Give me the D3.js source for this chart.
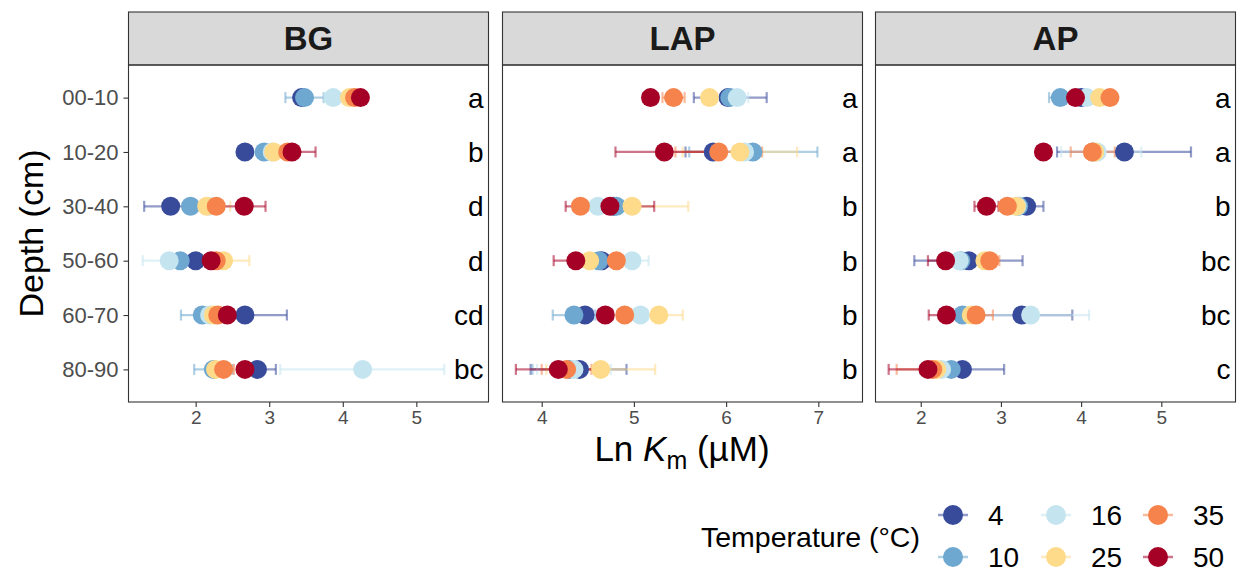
<!DOCTYPE html>
<html>
<head>
<meta charset="utf-8">
<script src="https://cdn.jsdelivr.net/npm/d3@7"></script>
<style>
  body { margin: 0; background: #fff; }
  svg { display: block; font-family: "Liberation Sans", Arial, sans-serif; }
</style>
</head>
<body>
<div id="chart"></div>
<script>
// categories
const depths = ["00-10", "10-20", "30-40", "50-60", "60-70", "80-90"];
const temps = ["4", "10", "16", "25", "35", "50"];
const tempColors = ["#384b9b", "#6ea7cf", "#c4e5ef", "#fedb8b", "#f6834b", "#a50026"];
const enzymes = ["BG", "LAP", "AP"];

// Ln Km means, one row per temperature, one value per depth
const bgMean = [
  [3.44, 2.67, 1.66, 2.00, 2.67, 2.84],
  [3.48, 2.93, 1.93, 1.79, 2.09, 2.24],
  [3.87, 3.04, 2.18, 1.64, 2.19, 4.27],
  [4.09, 3.06, 2.15, 2.38, 2.24, 2.27],
  [4.16, 3.25, 2.28, 2.28, 2.30, 2.38],
  [4.24, 3.31, 2.66, 2.21, 2.43, 2.67]
];
const bgLow = [
  [3.38, 2.60, 1.30, 1.92, 2.10, 2.60],
  [3.22, 2.86, 1.85, 1.70, 1.80, 1.98],
  [3.75, 2.96, 2.10, 1.28, 2.10, 3.15],
  [4.02, 3.00, 2.05, 2.05, 2.16, 2.20],
  [4.10, 3.18, 2.20, 2.20, 2.22, 2.30],
  [4.18, 3.00, 2.37, 2.13, 2.35, 2.59]
];
const bgHigh = [
  [3.50, 2.74, 2.00, 2.08, 3.24, 3.09],
  [3.74, 3.00, 2.01, 1.88, 2.38, 2.50],
  [3.98, 3.12, 2.26, 2.00, 2.28, 5.38],
  [4.16, 3.12, 2.47, 2.73, 2.32, 2.34],
  [4.22, 3.32, 2.36, 2.36, 2.38, 2.52],
  [4.30, 3.63, 2.95, 2.29, 2.51, 2.75]
];

const lapMean = [
  [6.02, 5.86, 4.78, 4.65, 4.47, 4.41],
  [6.04, 6.29, 4.81, 4.62, 4.35, 4.30],
  [6.12, 6.20, 4.61, 4.98, 5.07, 4.35],
  [5.82, 6.15, 4.98, 4.52, 5.27, 4.64],
  [5.43, 5.92, 4.42, 4.81, 4.90, 4.27],
  [5.18, 5.33, 4.74, 4.37, 4.69, 4.18]
];
const lapLow = [
  [5.65, 5.56, 4.70, 4.57, 4.39, 3.88],
  [5.95, 5.60, 4.73, 4.54, 4.12, 3.90],
  [5.99, 6.10, 4.53, 4.80, 4.99, 3.95],
  [5.74, 5.53, 4.37, 4.44, 5.02, 4.05],
  [5.31, 5.45, 4.34, 4.73, 4.82, 4.00],
  [5.10, 4.80, 4.26, 4.13, 4.61, 3.72]
];
const lapHigh = [
  [6.44, 6.16, 4.86, 4.73, 4.55, 4.92],
  [6.13, 6.99, 4.89, 4.70, 4.58, 4.70],
  [6.24, 6.30, 4.69, 5.16, 5.15, 4.75],
  [5.90, 6.77, 5.59, 4.60, 5.53, 5.23],
  [5.55, 6.39, 4.50, 4.89, 4.98, 4.54],
  [5.26, 5.86, 5.22, 4.61, 4.77, 4.64]
];

const apMean = [
  [4.00, 4.54, 3.32, 2.60, 3.26, 2.52],
  [3.74, 4.15, 3.22, 2.50, 2.52, 2.38],
  [4.07, 4.20, 3.20, 2.48, 3.37, 2.26],
  [4.23, 4.17, 3.19, 2.80, 2.63, 2.20],
  [4.36, 4.14, 3.08, 2.86, 2.69, 2.15],
  [3.93, 3.53, 2.82, 2.31, 2.32, 2.09]
];
const apLow = [
  [3.92, 3.70, 3.15, 1.92, 2.62, 2.00],
  [3.60, 4.07, 3.14, 2.42, 2.44, 2.30],
  [3.99, 3.75, 3.12, 2.40, 2.65, 2.18],
  [4.15, 4.09, 3.11, 2.72, 2.55, 2.12],
  [4.28, 3.87, 3.00, 2.75, 2.50, 1.70],
  [3.85, 3.45, 2.67, 2.09, 2.10, 1.60]
];
const apHigh = [
  [4.08, 5.37, 3.53, 3.27, 3.89, 3.04],
  [3.88, 4.23, 3.30, 2.58, 2.60, 2.46],
  [4.15, 4.75, 3.28, 2.56, 4.10, 2.34],
  [4.31, 4.25, 3.27, 2.88, 2.71, 2.28],
  [4.44, 4.42, 3.16, 2.98, 2.90, 2.60],
  [4.01, 3.61, 2.97, 2.53, 2.54, 2.50]
];

// significance letters per depth
const bgLetters = ["a", "b", "d", "d", "cd", "bc"];
const lapLetters = ["a", "a", "b", "b", "b", "b"];
const apLetters = ["a", "a", "b", "bc", "bc", "c"];

// axis ranges and tick labels (free x scales)
const bgDomain = [1.087, 5.981];
const lapDomain = [3.575, 7.479];
const apDomain = [1.436, 5.925];
const bgTicks = [2, 3, 4, 5];
const lapTicks = [4, 5, 6, 7];
const apTicks = [2, 3, 4, 5];

const panels = [
  { name: enzymes[0], mean: bgMean, low: bgLow, high: bgHigh, letters: bgLetters, domain: bgDomain, ticks: bgTicks },
  { name: enzymes[1], mean: lapMean, low: lapLow, high: lapHigh, letters: lapLetters, domain: lapDomain, ticks: lapTicks },
  { name: enzymes[2], mean: apMean, low: apLow, high: apHigh, letters: apLetters, domain: apDomain, ticks: apTicks }
];

// Dimensions
const width = 1239;
const height = 573;
const panelLefts = [128.5, 502.5, 875.5];
const panelW = 360;
const stripTop = 12;
const panelTop = 65;
const panelBottom = 402;
const pointR = 9.5;
const capH = 11;

const svg = d3.select("#chart")
  .append("svg")
  .attr("width", width)
  .attr("height", height)
  .attr("viewBox", `0 0 ${width} ${height}`);

const color = d3.scaleOrdinal().domain(temps).range(tempColors);

const y = d3.scalePoint()
  .domain(depths)
  .range([panelTop, panelBottom])
  .padding(0.6);

panels.forEach((p, i) => {
  const x0 = panelLefts[i];
  const x = d3.scaleLinear().domain(p.domain).range([x0, x0 + panelW]);

  // strip
  svg.append("rect")
    .attr("x", x0).attr("y", stripTop)
    .attr("width", panelW).attr("height", panelTop - stripTop)
    .attr("fill", "#d9d9d9").attr("stroke", "#333").attr("stroke-width", 1.1);
  svg.append("text")
    .attr("x", x0 + panelW / 2).attr("y", (stripTop + panelTop) / 2)
    .attr("dy", "0.36em")
    .attr("text-anchor", "middle")
    .style("font-size", "33px").style("font-weight", "bold").style("fill", "#1a1a1a")
    .text(p.name);

  // x axis
  const xAxis = svg.append("g")
    .attr("transform", `translate(0,${panelBottom})`)
    .call(d3.axisBottom(x).tickValues(p.ticks).tickFormat(d3.format("d")).tickSize(5).tickPadding(4));
  xAxis.select(".domain").remove();
  xAxis.selectAll("line").attr("stroke", "#333").attr("stroke-width", 1.1);
  xAxis.selectAll("text").attr("fill", "#4d4d4d").style("font-size", "19px")
    .style("font-family", "Liberation Sans, Arial, sans-serif");

  const g = svg.append("g");

  // error bars, per temperature
  temps.forEach((t, ti) => {
    const rows = depths.map((d, di) => ({ d, lo: p.low[ti][di], hi: p.high[ti][di] }));
    const eb = g.append("g")
      .attr("stroke", color(t))
      .attr("stroke-opacity", 0.55)
      .attr("stroke-width", 2.2)
      .attr("fill", "none");
    eb.selectAll("line.h").data(rows).enter().append("line")
      .attr("x1", r => x(r.lo)).attr("x2", r => x(r.hi))
      .attr("y1", r => y(r.d)).attr("y2", r => y(r.d));
    eb.selectAll("line.l").data(rows).enter().append("line")
      .attr("x1", r => x(r.lo)).attr("x2", r => x(r.lo))
      .attr("y1", r => y(r.d) - capH / 2).attr("y2", r => y(r.d) + capH / 2);
    eb.selectAll("line.r").data(rows).enter().append("line")
      .attr("x1", r => x(r.hi)).attr("x2", r => x(r.hi))
      .attr("y1", r => y(r.d) - capH / 2).attr("y2", r => y(r.d) + capH / 2);
  });

  // points
  temps.forEach((t, ti) => {
    g.append("g").selectAll("circle")
      .data(depths.map((d, di) => ({ d, v: p.mean[ti][di] })))
      .enter()
      .append("circle")
      .attr("cx", r => x(r.v))
      .attr("cy", r => y(r.d))
      .attr("r", pointR)
      .attr("fill", color(t));
  });

  // letters
  svg.append("g").selectAll("text")
    .data(depths.map((d, di) => ({ d, l: p.letters[di] })))
    .enter()
    .append("text")
    .attr("x", x0 + panelW - 5)
    .attr("y", r => y(r.d))
    .attr("dy", "0.36em")
    .attr("text-anchor", "end")
    .style("font-size", "28px").style("fill", "#000")
    .text(r => r.l);

  // panel border
  svg.append("rect")
    .attr("x", x0).attr("y", panelTop)
    .attr("width", panelW).attr("height", panelBottom - panelTop)
    .attr("fill", "none").attr("stroke", "#333").attr("stroke-width", 1.1);
});

// y axis
const yAxis = svg.append("g")
  .attr("transform", `translate(${panelLefts[0]},0)`)
  .call(d3.axisLeft(y).tickSize(5).tickPadding(5));
yAxis.select(".domain").remove();
yAxis.selectAll("line").attr("stroke", "#333").attr("stroke-width", 1.1);
yAxis.selectAll("text").attr("fill", "#4d4d4d").style("font-size", "22px")
  .style("font-family", "Liberation Sans, Arial, sans-serif");

// axis titles
const xTitle = svg.append("text")
  .attr("x", (panelLefts[0] + panelLefts[2] + panelW) / 2)
  .attr("y", 461)
  .attr("text-anchor", "middle")
  .style("font-size", "35px").style("fill", "#000");
xTitle.append("tspan").text("Ln ");
xTitle.append("tspan").style("font-style", "italic").text("K");
xTitle.append("tspan").attr("dy", 8).style("font-size", "25px").text("m");
xTitle.append("tspan").attr("dy", -8).text(" (µM)");

svg.append("text")
  .attr("transform", `translate(43,${(panelTop + panelBottom) / 2}) rotate(-90)`)
  .attr("text-anchor", "middle")
  .style("font-size", "34px").style("fill", "#000")
  .text("Depth (cm)");

// legend
svg.append("text")
  .attr("x", 701).attr("y", 537).attr("dy", "0.36em")
  .style("font-size", "28.5px").style("fill", "#000")
  .text("Temperature (°C)");

const legendCols = [953, 1056, 1158];
const legendRows = [515, 557];
const legend = svg.append("g").selectAll("g")
  .data(temps)
  .enter()
  .append("g")
  .attr("transform", (t, i) => `translate(${legendCols[Math.floor(i / 2)]},${legendRows[i % 2]})`);
legend.append("line")
  .attr("x1", -15).attr("x2", 15)
  .attr("stroke", t => color(t)).attr("stroke-opacity", 0.55).attr("stroke-width", 2.5);
legend.append("circle").attr("r", 10).attr("fill", t => color(t));
legend.append("text")
  .attr("x", 35).attr("dy", "0.36em")
  .style("font-size", "28px").style("fill", "#000")
  .text(t => t);
</script>
</body>
</html>
